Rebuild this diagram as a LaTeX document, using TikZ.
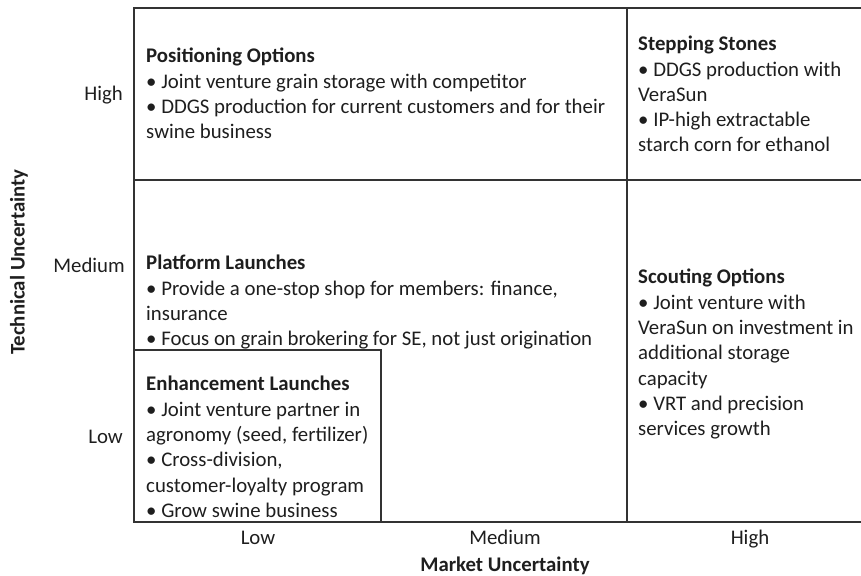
\documentclass[tikz,border=0pt]{standalone}
\usepackage{fontspec}
\setmainfont{Carlito}
\usepackage{tikz}
\usetikzlibrary{positioning}
\definecolor{gridline}{RGB}{51,51,51}
\definecolor{quadtext}{RGB}{30,30,30}

\begin{document}
\begin{tikzpicture}[x=1pt, y=-1pt,
  every node/.style={font=\fontsize{20.8}{25.3}\selectfont, text=quadtext, inner sep=0pt},
  quad/.style={anchor=north west, align=left},
  level/.style={anchor=base},
  axis/.style={anchor=base, font=\fontsize{20.8}{25.3}\selectfont\bfseries},
  frame/.style={draw=gridline, line width=1.3pt}
]
\useasboundingbox (0,0) rectangle (861,575);
% grid of the matrix
\draw[frame] (861,8) -- (134,8) -- (134,522) -- (861,522);
\draw[frame] (627,8) -- (627,522);
\draw[frame] (134,180) -- (861,180);
\draw[frame] (134,350) -- (381,350) -- (381,522);

% quadrants
\node[quad] (posopt) at (146,48) {\textbf{Positioning Options}\\
  • Joint venture grain storage with competitor\\
  • DDGS production for current customers and for their\\
  swine business};
\node[quad] (stepst) at (638,36) {\textbf{Stepping Stones}\\
  • DDGS production with\\
  VeraSun\\
  • IP-high extractable\\
  starch corn for ethanol};
\node[quad] (platl) at (146,255) {\textbf{Platform Launches}\\
  • Provide a one-stop shop for members: finance,\\
  insurance\\
  • Focus on grain brokering for SE, not just origination};
\node[quad] (scouto) at (638,269) {\textbf{Scouting Options}\\
  • Joint venture with\\
  VeraSun on investment in\\
  additional storage\\
  capacity\\
  • VRT and precision\\
  services growth};
\node[quad] (enhl) at (146,376) {\textbf{Enhancement Launches}\\
  • Joint venture partner in\\
  agronomy (seed, fertilizer)\\
  • Cross-division,\\
  customer-loyalty program\\
  • Grow swine business};

% axes
\node[level, anchor=base east] (thigh) at (123,101) {High};
\node[level, anchor=base east] (tmed) at (125,272) {Medium};
\node[level, anchor=base east] (tlow) at (123,443) {Low};
\node[level] (mlow) at (258,544) {Low};
\node[level] (mmed) at (505,544) {Medium};
\node[level] (mhigh) at (750,544) {High};
\node[axis] (mkt) at (505,571) {Market Uncertainty};
\node[axis, anchor=center, rotate=90] (tech) at (19,262) {Technical Uncertainty};
\end{tikzpicture}
\end{document}
